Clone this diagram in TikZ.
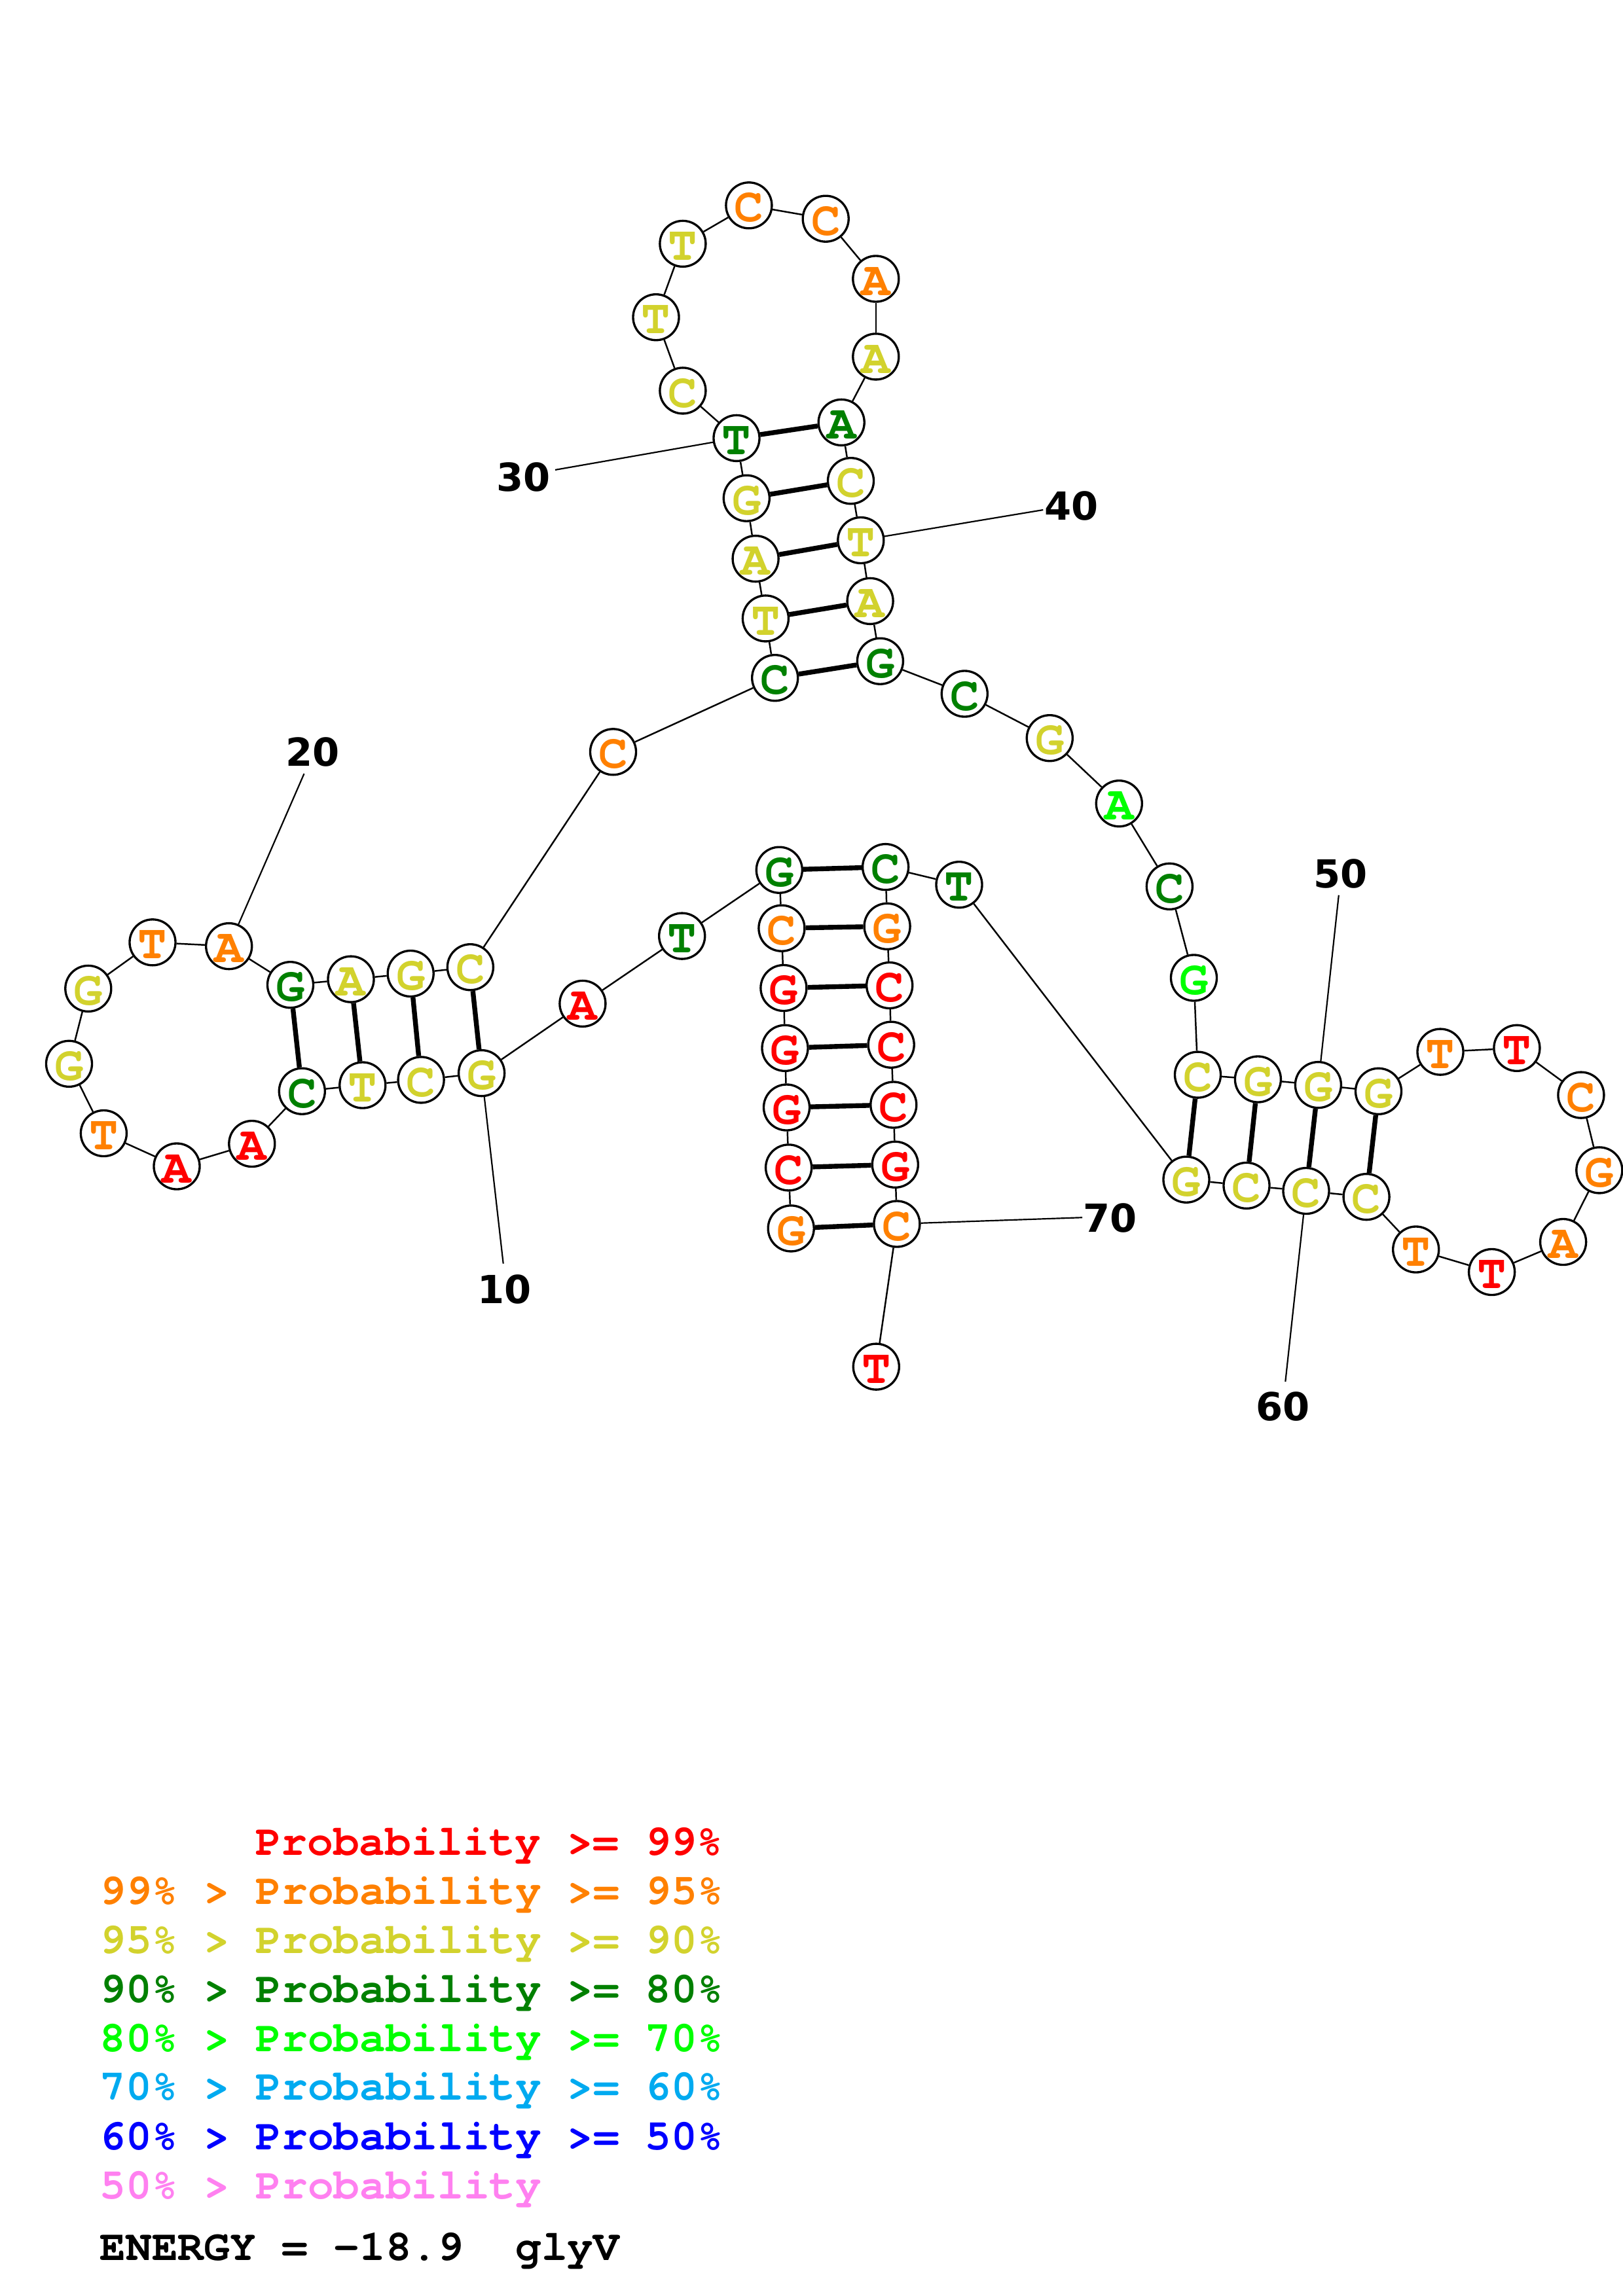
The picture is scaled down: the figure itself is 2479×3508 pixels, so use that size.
\documentclass[tikz,border=0pt]{standalone}
\usepackage{fontspec}
\setmonofont{TeX Gyre Cursor}
\newfontfamily\numfont{DejaVu Sans}
\definecolor{cRed}{RGB}{255,0,0}
\definecolor{cOra}{RGB}{255,128,0}
\definecolor{cYel}{RGB}{210,210,45}
\definecolor{cDkG}{RGB}{0,128,0}
\definecolor{cGrn}{RGB}{0,255,0}
\definecolor{cSky}{RGB}{0,170,240}
\definecolor{cBlu}{RGB}{0,0,255}
\definecolor{cPnk}{RGB}{255,128,240}
\tikzset{
  nt/.style={circle,draw=black,fill=white,line width=0.95pt,minimum size=0.70cm,inner sep=0pt,
    text height=14.3pt,text depth=0pt,
    font=\ttfamily\bfseries\fontsize{21pt}{21pt}\selectfont},
  bb/.style={line width=0.7pt},
  pr/.style={line width=2.1pt},
  ld/.style={line width=0.62pt},
  num/.style={inner sep=0pt,font=\numfont\bfseries\fontsize{16.8pt}{17pt}\selectfont},
  leg/.style={anchor=base west,inner sep=0pt,font=\ttfamily\bfseries\fontsize{18.8pt}{19pt}\selectfont}
}
\begin{document}
\begin{tikzpicture}[x=0.01cm,y=-0.01cm]
\path[use as bounding box,fill=white] (0,0) rectangle (2479,3508);
% nucleotides
\node[nt,text=cOra] (n1) at (1208.2,1876.9) {G};
\node[nt,text=cRed] (n2) at (1204.6,1783.9) {C};
\node[nt,text=cRed] (n3) at (1201.5,1692.0) {G};
\node[nt,text=cRed] (n4) at (1199.0,1601.3) {G};
\node[nt,text=cRed] (n5) at (1196.9,1509.5) {G};
\node[nt,text=cOra] (n6) at (1193.9,1418.2) {C};
\node[nt,text=cDkG] (n7) at (1190.3,1329.2) {G};
\node[nt,text=cDkG] (n8) at (1041.7,1430.1) {T};
\node[nt,text=cRed] (n9) at (889.9,1533.4) {A};
\node[nt,text=cYel] (n10) at (735.6,1639.6) {G};
\node[nt,text=cYel] (n11) at (643.1,1649.9) {C};
\node[nt,text=cYel] (n12) at (553.8,1658.0) {T};
\node[nt,text=cDkG] (n13) at (461.3,1667.2) {C};
\node[nt,text=cRed] (n14) at (384.8,1747.5) {A};
\node[nt,text=cRed] (n15) at (270.0,1782.0) {A};
\node[nt,text=cOra] (n16) at (158.4,1731.5) {T};
\node[nt,text=cYel] (n17) at (105.5,1625.3) {G};
\node[nt,text=cYel] (n18) at (134.8,1510.4) {G};
\node[nt,text=cOra] (n19) at (233.0,1439.8) {T};
\node[nt,text=cOra] (n20) at (349.7,1445.6) {A};
\node[nt,text=cDkG] (n21) at (443.5,1504.7) {G};
\node[nt,text=cYel] (n22) at (536.0,1496.1) {A};
\node[nt,text=cYel] (n23) at (627.2,1487.5) {G};
\node[nt,text=cYel] (n24) at (718.4,1477.7) {C};
\node[nt,text=cOra] (n25) at (936.5,1148.8) {C};
\node[nt,text=cDkG] (n26) at (1183.7,1035.7) {C};
\node[nt,text=cYel] (n27) at (1169.4,944.9) {T};
\node[nt,text=cYel] (n28) at (1154.1,853.6) {A};
\node[nt,text=cYel] (n29) at (1140.3,761.2) {G};
\node[nt,text=cDkG] (n30) at (1125.0,669.4) {T};
\node[nt,text=cYel] (n31) at (1042.9,596.9) {C};
\node[nt,text=cYel] (n32) at (1002.0,484.7) {T};
\node[nt,text=cYel] (n33) at (1042.9,372.4) {T};
\node[nt,text=cOra] (n34) at (1143.9,313.8) {C};
\node[nt,text=cOra] (n35) at (1261.2,334.2) {C};
\node[nt,text=cOra] (n36) at (1337.8,426.0) {A};
\node[nt,text=cYel] (n37) at (1337.8,544.9) {A};
\node[nt,text=cDkG] (n38) at (1285.2,645.4) {A};
\node[nt,text=cYel] (n39) at (1299.5,734.7) {C};
\node[nt,text=cYel] (n40) at (1314.8,825.5) {T};
\node[nt,text=cYel] (n41) at (1329.1,918.4) {A};
\node[nt,text=cDkG] (n42) at (1344.4,1010.2) {G};
\node[nt,text=cDkG] (n43) at (1473.3,1060.0) {C};
\node[nt,text=cYel] (n44) at (1603.3,1127.7) {G};
\node[nt,text=cGrn] (n45) at (1709.3,1227.7) {A};
\node[nt,text=cDkG] (n46) at (1786.4,1354.3) {C};
\node[nt,text=cGrn] (n47) at (1823.5,1494.0) {G};
\node[nt,text=cYel] (n48) at (1829.5,1642.1) {C};
\node[nt,text=cYel] (n49) at (1921.4,1649.0) {G};
\node[nt,text=cYel] (n50) at (2013.4,1657.6) {G};
\node[nt,text=cYel] (n51) at (2105.5,1667.3) {G};
\node[nt,text=cOra] (n52) at (2200.0,1607.1) {T};
\node[nt,text=cRed] (n53) at (2316.9,1601.3) {T};
\node[nt,text=cOra] (n54) at (2414.9,1673.1) {C};
\node[nt,text=cOra] (n55) at (2442.8,1787.9) {G};
\node[nt,text=cOra] (n56) at (2387.6,1897.5) {A};
\node[nt,text=cRed] (n57) at (2278.6,1943.5) {T};
\node[nt,text=cOra] (n58) at (2162.7,1909.0) {T};
\node[nt,text=cYel] (n59) at (2087.1,1828.6) {C};
\node[nt,text=cYel] (n60) at (1995.0,1819.5) {C};
\node[nt,text=cYel] (n61) at (1904.0,1811.4) {C};
\node[nt,text=cYel] (n62) at (1812.0,1802.2) {G};
\node[nt,text=cDkG] (n63) at (1465.0,1351.7) {T};
\node[nt,text=cDkG] (n64) at (1352.6,1324.6) {C};
\node[nt,text=cOra] (n65) at (1355.1,1415.3) {G};
\node[nt,text=cRed] (n66) at (1358.7,1505.5) {C};
\node[nt,text=cRed] (n67) at (1361.2,1596.2) {C};
\node[nt,text=cRed] (n68) at (1364.8,1688.0) {C};
\node[nt,text=cRed] (n69) at (1367.3,1779.3) {G};
\node[nt,text=cOra] (n70) at (1369.9,1870.0) {C};
\node[nt,text=cRed] (n71) at (1338.3,2088.1) {T};
% backbone
\foreach \i [count=\j from 2] in {1,...,70} \draw[bb] (n\i) -- (n\j);
% base pairs
\foreach \a/\b in {1/70,2/69,3/68,4/67,5/66,6/65,7/64,10/24,11/23,12/22,13/21,26/42,27/41,28/40,29/39,30/38,48/62,49/61,50/60,51/59}
  \draw[pr] (n\a) -- (n\b);
% position labels
\coordinate (e10) at (768.7,1930.6);
\coordinate (e20) at (464.5,1182.1);
\coordinate (e30) at (848.0,717.9);
\coordinate (e40) at (1593.3,779.0);
\coordinate (e50) at (2044.8,1367.7);
\coordinate (e60) at (1963.3,2111.0);
\coordinate (e70) at (1653.1,1860.2);
\foreach \k in {10,20,30,40,50,60,70} \draw[ld] (n\k) -- (e\k);
\node[num] (t10) at (770.7,1969.7) {10};
\node[num] (t20) at (477.3,1148.8) {20};
\node[num] (t30) at (799.5,728.6) {30};
\node[num] (t40) at (1636.7,773.3) {40};
\node[num] (t50) at (2047.3,1335.0) {50};
\node[num] (t60) at (1959.3,2149.3) {60};
\node[num] (t70) at (1695.4,1861.4) {70};
% legend
\node[leg,text=cRed] (g1) at (389.6,2834) {Probability >= 99\%};
\node[leg,text=cOra] (g2) at (152,2909) {99\% > Probability >= 95\%};
\node[leg,text=cYel] (g3) at (152,2984) {95\% > Probability >= 90\%};
\node[leg,text=cDkG] (g4) at (152,3059) {90\% > Probability >= 80\%};
\node[leg,text=cGrn] (g5) at (152,3134) {80\% > Probability >= 70\%};
\node[leg,text=cSky] (g6) at (152,3208) {70\% > Probability >= 60\%};
\node[leg,text=cBlu] (g7) at (152,3284) {60\% > Probability >= 50\%};
\node[leg,text=cPnk] (g8) at (152,3359) {50\% > Probability};
\node[leg,text=black] (g9) at (152,3453) {ENERGY = -18.9\ \ glyV};
\end{tikzpicture}
\end{document}
